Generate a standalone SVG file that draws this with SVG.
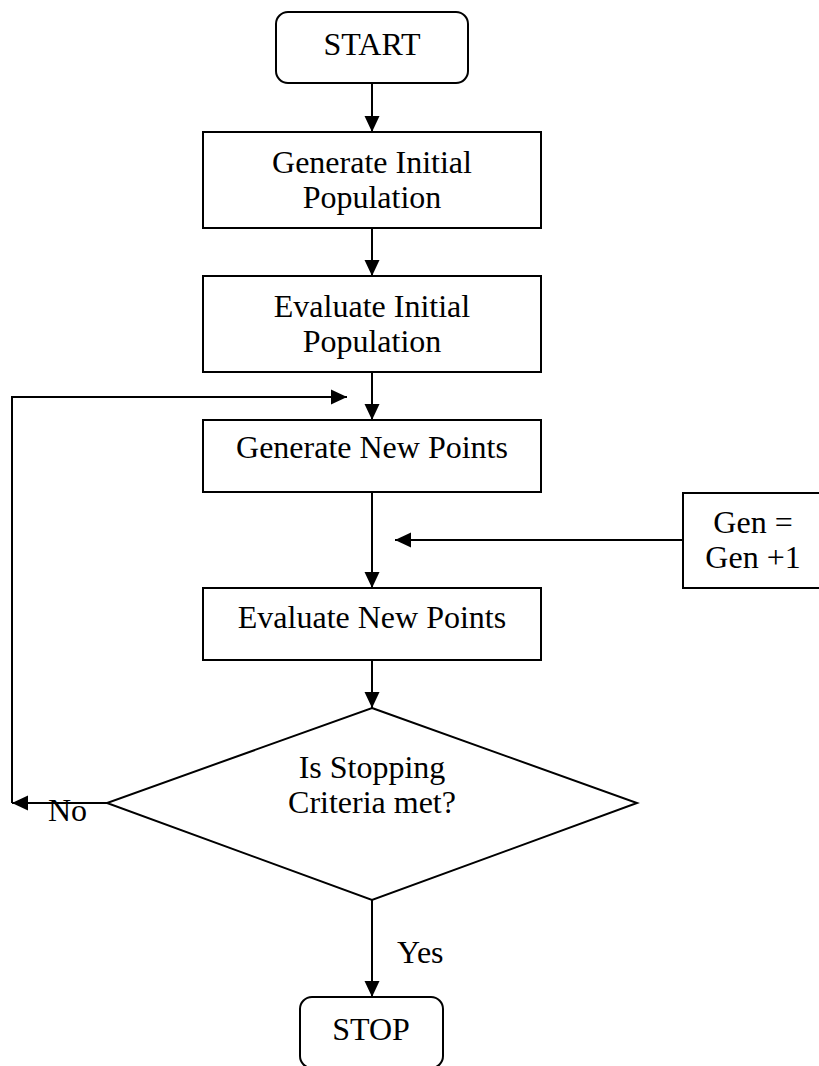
<svg xmlns="http://www.w3.org/2000/svg" width="819" height="1066" viewBox="0 0 819 1066">
  <style>
    .box { fill: #fff; stroke: #000; stroke-width: 2; }
    .line { fill: none; stroke: #000; stroke-width: 2; }
    .lbl { font-family: "Liberation Serif", "Times New Roman", serif; font-size: 32px; fill: #000; }
    .mid { text-anchor: middle; }
  </style>
  <defs>
    <marker id="arrow" markerUnits="userSpaceOnUse" markerWidth="16" markerHeight="16" viewBox="0 0 16 16" refX="16" refY="8" orient="auto">
      <path d="M0,0.5 L16,8 L0,15.5 Z" fill="#000"/>
    </marker>
  </defs>
  <rect width="819" height="1066" fill="#fff"/>

  <!-- connectors -->
  <g id="connectors">
    <line class="line" x1="372" y1="83" x2="372" y2="132" marker-end="url(#arrow)"/>
    <line class="line" x1="372" y1="228" x2="372" y2="276" marker-end="url(#arrow)"/>
    <line class="line" x1="372" y1="372" x2="372" y2="420" marker-end="url(#arrow)"/>
    <line class="line" x1="372" y1="492" x2="372" y2="588" marker-end="url(#arrow)"/>
    <line class="line" x1="683" y1="540" x2="395" y2="540" marker-end="url(#arrow)"/>
    <line class="line" x1="372" y1="660" x2="372" y2="708" marker-end="url(#arrow)"/>
    <line class="line" x1="107" y1="803" x2="12" y2="803" marker-end="url(#arrow)"/>
    <polyline class="line" points="12,803 12,397 347,397" marker-end="url(#arrow)"/>
    <line class="line" x1="372" y1="900" x2="372" y2="997" marker-end="url(#arrow)"/>
    <text class="lbl" x="48" y="821">No</text>
    <text class="lbl" x="397" y="963">Yes</text>
  </g>

  <g id="start">
    <rect class="box" x="276" y="12" width="192" height="71" rx="12"/>
    <text class="lbl mid" x="372" y="55">START</text>
  </g>

  <g id="gen-initial">
    <rect class="box" x="203" y="132" width="338" height="96"/>
    <text class="lbl mid" x="372" y="173">Generate Initial</text>
    <text class="lbl mid" x="372" y="208">Population</text>
  </g>

  <g id="eval-initial">
    <rect class="box" x="203" y="276" width="338" height="96"/>
    <text class="lbl mid" x="372" y="317">Evaluate Initial</text>
    <text class="lbl mid" x="372" y="352">Population</text>
  </g>

  <g id="gen-new">
    <rect class="box" x="203" y="420" width="338" height="72"/>
    <text class="lbl mid" x="372" y="458">Generate New Points</text>
  </g>

  <g id="gen-increment">
    <rect class="box" x="683" y="493" width="140" height="95"/>
    <text class="lbl mid" x="753" y="533">Gen =</text>
    <text class="lbl mid" x="753" y="568">Gen +1</text>
  </g>

  <g id="eval-new">
    <rect class="box" x="203" y="588" width="338" height="72"/>
    <text class="lbl mid" x="372" y="628">Evaluate New Points</text>
  </g>

  <g id="decision">
    <polygon class="box" points="372,708 637,803 372,900 107,803"/>
    <text class="lbl mid" x="372" y="778">Is Stopping</text>
    <text class="lbl mid" x="372" y="813">Criteria met?</text>
  </g>

  <g id="stop">
    <rect class="box" x="300" y="997" width="143" height="71" rx="12"/>
    <text class="lbl mid" x="371" y="1040">STOP</text>
  </g>
</svg>
